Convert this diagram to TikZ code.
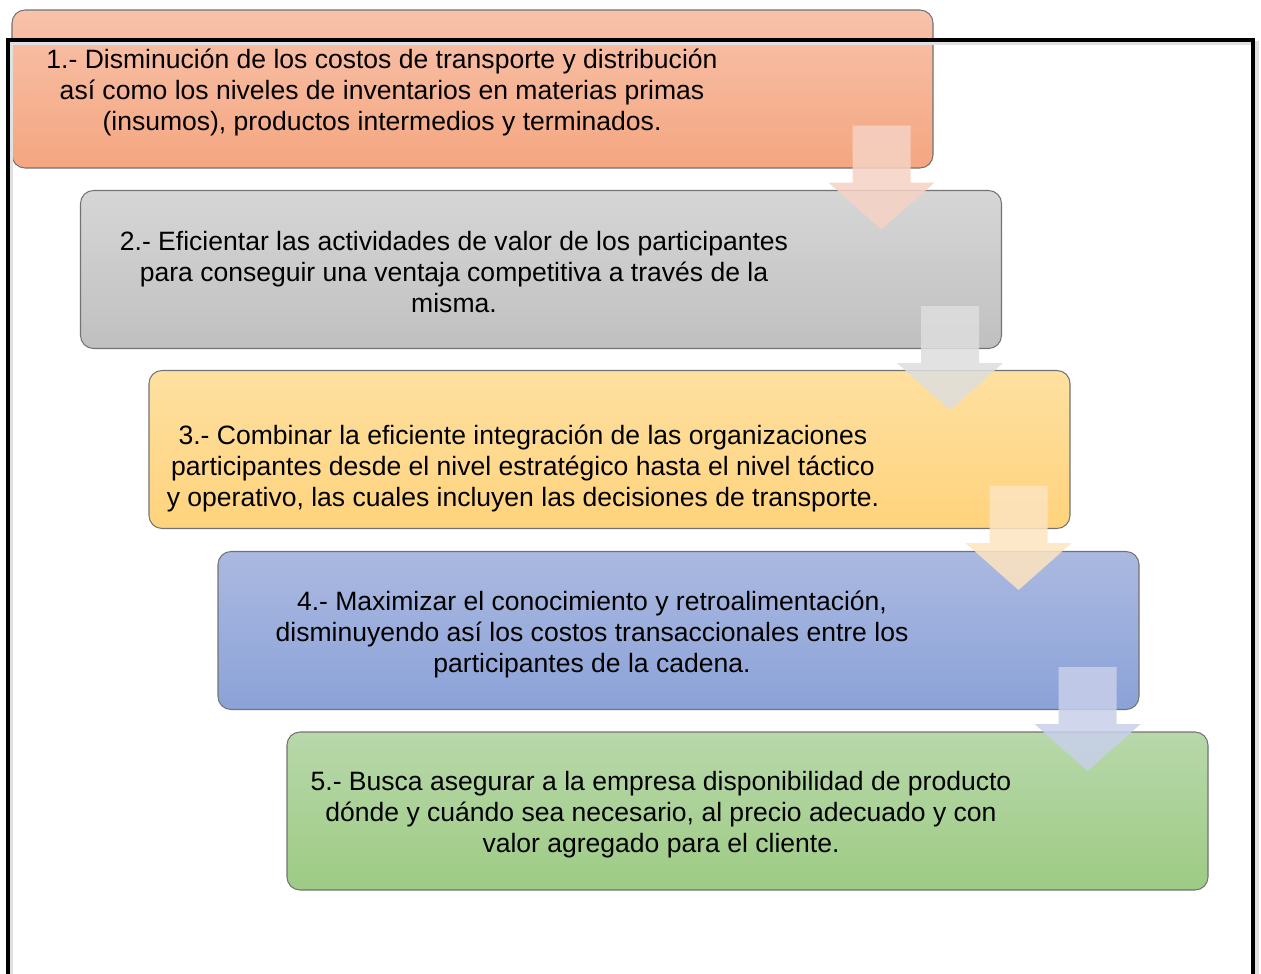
\documentclass[tikz,border=0pt]{standalone}
\usepackage{fontspec}
\setmainfont{Liberation Sans}
\definecolor{naranja1}{RGB}{248,194,171}
\definecolor{naranja2}{RGB}{244,166,128}
\definecolor{gris1}{RGB}{214,214,214}
\definecolor{gris2}{RGB}{192,192,192}
\definecolor{oro1}{RGB}{254,224,160}
\definecolor{oro2}{RGB}{255,211,125}
\definecolor{azul1}{RGB}{171,185,224}
\definecolor{azul2}{RGB}{139,162,216}
\definecolor{verde1}{RGB}{184,216,170}
\definecolor{verde2}{RGB}{157,203,132}
\definecolor{fnaranja}{RGB}{246,210,196}
\definecolor{fgris}{RGB}{222,222,222}
\definecolor{foro}{RGB}{253,228,192}
\definecolor{fazul}{RGB}{200,208,234}
\newcommand{\paso}{\fontsize{15.1}{17.64}\selectfont}
% block arrow hanging from the lower right corner of a box
\newcommand{\flecha}[2]{%
  \fill[#2,fill opacity=0.85,shift={(#1.south east)}]
    (-1.62,0.86) -- (-0.46,0.86) -- (-0.46,-0.28) -- (0.02,-0.28)
    -- (-1.04,-1.22) -- (-2.10,-0.28) -- (-1.62,-0.28) -- cycle;}

\begin{document}
\begin{tikzpicture}[
  caja/.style={draw=black!55,line width=0.6pt,rounded corners=0.26cm,
    minimum width=18.42cm,minimum height=3.16cm,inner sep=0pt},
  texto/.style={align=center,inner sep=0pt,font=\paso}]
\clip (0,0) rectangle (25.22,-19.48);
\fill[white] (0,0) rectangle (25.22,-19.48);

\node[caja,top color=naranja1,bottom color=naranja2] (obj-1) at (9.45,-1.78) {};
\node[caja,top color=gris1,bottom color=gris2] (obj-2) at (10.82,-5.39) {};
\node[caja,top color=oro1,bottom color=oro2] (obj-3) at (12.19,-8.99) {};
\node[caja,top color=azul1,bottom color=azul2] (obj-4) at (13.57,-12.61) {};
\node[caja,top color=verde1,bottom color=verde2] (obj-5) at (14.95,-16.22) {};

\node[texto] (txt-1) at (7.64,-1.85) {1.- Disminución de los costos de transporte y distribución\\ así como los niveles de inventarios en materias primas\\ (insumos), productos intermedios y terminados.};
\node[texto] (txt-2) at (9.08,-5.45) {2.- Eficientar las actividades de valor de los participantes\\ para conseguir una ventaja competitiva a través de la\\ misma.};
\node[texto] (txt-3) at (10.46,-9.37) {3.- Combinar la eficiente integración de las organizaciones\\ participantes desde el nivel estratégico hasta el nivel táctico\\ y operativo, las cuales incluyen las decisiones de transporte.};
\node[texto] (txt-4) at (11.84,-12.69) {4.- Maximizar el conocimiento y retroalimentación,\\ disminuyendo así los costos transaccionales entre los\\ participantes de la cadena.};
\node[texto] (txt-5) at (13.22,-16.29) {5.- Busca asegurar a la empresa disponibilidad de producto\\ dónde y cuándo sea necesario, al precio adecuado y con\\ valor agregado para el cliente.};

\flecha{obj-1}{fnaranja}
\flecha{obj-2}{fgris}
\flecha{obj-3}{foro}
\flecha{obj-4}{fazul}

% outer frame, runs off the bottom of the page
\draw[black!12,line width=2.5pt] (0.22,-0.86) rectangle (25.14,-20.5);
\draw[black,line width=2.3pt] (0.16,-0.80) rectangle (25.06,-20.5);
\end{tikzpicture}
\end{document}
